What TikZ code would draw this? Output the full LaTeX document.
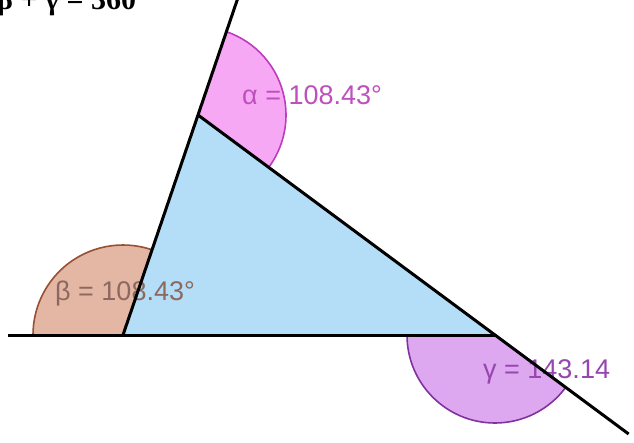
\documentclass[tikz,border=0pt]{standalone}
\usepackage{fontspec}
\setmainfont{Liberation Sans}
\newfontfamily\titlefont{Liberation Serif}
\definecolor{alphafill}{RGB}{246,168,245}
\definecolor{alphaline}{RGB}{190,60,190}
\definecolor{alphatxt}{RGB}{190,80,190}
\definecolor{betafill}{RGB}{228,183,165}
\definecolor{betaline}{RGB}{150,80,50}
\definecolor{betatxt}{RGB}{140,105,95}
\definecolor{gammafill}{RGB}{222,168,240}
\definecolor{gammaline}{RGB}{130,50,160}
\definecolor{gammatxt}{RGB}{150,70,175}
\definecolor{trifill}{RGB}{180,222,248}
\tikzset{
  ln/.style={line width=3pt, black},
  sector/.style={line width=1.6pt},
  lbl/.style={anchor=base west, inner sep=0pt, font=\fontsize{27}{27}\selectfont}
}
\begin{document}
\begin{tikzpicture}[x=1pt,y=1pt]
\useasboundingbox (0,0) rectangle (634,442);
\fill[white] (0,0) rectangle (634,442);
\coordinate (A) at (198,327);
\coordinate (B) at (123,107);
\coordinate (C) at (495,107);
\coordinate (L) at (8,107);
\coordinate (T) at (239.25,448);
\coordinate (E) at (628.65,8);
% sectors
\filldraw[sector, fill=alphafill, draw=alphaline] (A) -- ++(71.2:88) arc[start angle=71.2, end angle=-36.53, radius=88] -- cycle;
\filldraw[sector, fill=betafill, draw=betaline] (B) -- ++(71.2:90) arc[start angle=71.2, end angle=180, radius=90] -- cycle;
\filldraw[sector, fill=gammafill, draw=gammaline] (C) -- ++(180:88) arc[start angle=180, end angle=323.47, radius=88] -- cycle;
% triangle
\fill[trifill] (A) -- (B) -- (C) -- cycle;
% labels
\node[lbl, text=alphatxt] (la) at (242,337) {α = 108.43°};
\node[lbl, text=betatxt] (lb) at (55,142) {β = 108.43°};
\node[lbl, text=gammatxt] (lg) at (483,64) {γ = 143.14};
% lines
\draw[ln] (L) -- (C);
\draw[ln] (B) -- (T);
\draw[ln] (A) -- (E);
% title (cut off at top, as in the reference)
\node[anchor=base west, inner sep=0pt, font=\titlefont\bfseries\fontsize{30}{30}\selectfont] (title) at (-3,432) {β + γ = 360};
\end{tikzpicture}
\end{document}
